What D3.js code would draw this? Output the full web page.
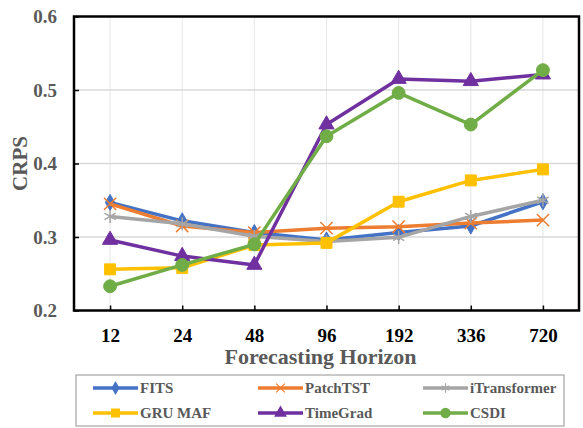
<!DOCTYPE html>
<html>
<head>
<meta charset="utf-8">
<script src="https://cdn.jsdelivr.net/npm/d3@7"></script>
<style>
  body { margin: 0; background: #fff; }
  text { font-family: "Liberation Serif", "Times New Roman", serif; font-weight: bold; }
</style>
</head>
<body>
<script>
const [width, height] = [583, 428];

const horizons = ['12', '24', '48', '96', '192', '336', '720'];
const yTicks = [0.2, 0.3, 0.4, 0.5, 0.6];

const fits = [0.347, 0.322, 0.306, 0.296, 0.306, 0.315, 0.348];
const patchtst = [0.345, 0.315, 0.306, 0.312, 0.314, 0.319, 0.323];
const itransformer = [0.328, 0.318, 0.301, 0.294, 0.2995, 0.328, 0.350];
const grumaf = [0.256, 0.258, 0.289, 0.292, 0.348, 0.377, 0.392];
const timegrad = [0.296, 0.274, 0.262, 0.453, 0.515, 0.512, 0.521];
const csdi = [0.233, 0.262, 0.290, 0.437, 0.496, 0.453, 0.527];

const series = [
  {name: 'FITS', values: fits, color: '#4472C4', symbol: d3.symbolDiamond, size: 75, fill: true},
  {name: 'PatchTST', values: patchtst, color: '#ED7D31', symbol: d3.symbolX, size: 100, fill: false},
  {name: 'iTransformer', values: itransformer, color: '#A5A5A5', symbol: d3.symbolAsterisk, size: 120, fill: false},
  {name: 'GRU MAF', values: grumaf, color: '#FFC000', symbol: d3.symbolSquare, size: 120, fill: true},
  {name: 'TimeGrad', values: timegrad, color: '#7030A0', symbol: d3.symbolTriangle, size: 100, fill: true},
  {name: 'CSDI', values: csdi, color: '#70AD47', symbol: d3.symbolCircle, size: 130, fill: true}
];

const plot = {left: 74, right: 579, top: 16.5, bottom: 310.5};

const svg = d3.select('body')
  .append('svg')
  .attr('width', width)
  .attr('height', height);

const xScale = d3.scalePoint()
  .domain(horizons)
  .range([plot.left, plot.right])
  .padding(0.5);

const yScale = d3.scaleLinear()
  .domain([0.2, 0.6])
  .range([plot.bottom, plot.top]);

// grid
const grid = svg.append('g').attr('class', 'grid');
grid.selectAll('line.v')
  .data(horizons)
  .enter()
  .append('line')
  .attr('class', 'v')
  .attr('x1', d => xScale(d)).attr('x2', d => xScale(d))
  .attr('y1', plot.top).attr('y2', plot.bottom)
  .attr('stroke', '#e6e6e6')
  .attr('stroke-width', 1);
grid.selectAll('line.h')
  .data(yTicks.slice(1, -1))
  .enter()
  .append('line')
  .attr('class', 'h')
  .attr('x1', plot.left).attr('x2', plot.right)
  .attr('y1', d => yScale(d)).attr('y2', d => yScale(d))
  .attr('stroke', '#d9d9d9')
  .attr('stroke-width', 1.5);

// axes
const axisX = d3.axisBottom(xScale).tickSizeInner(-5).tickSizeOuter(0).tickPadding(14);
const gx = svg.append('g')
  .attr('transform', `translate(0, ${plot.bottom})`)
  .call(axisX);
gx.select('.domain').remove();
gx.selectAll('line').attr('stroke', '#000').attr('stroke-width', 1.5);
gx.selectAll('text')
  .attr('font-size', 19)
  .attr('fill', '#000')
  .attr('dy', '0.9em');

const axisY = d3.axisLeft(yScale).tickValues(yTicks).tickFormat(d3.format('.1f'))
  .tickSizeInner(-5).tickSizeOuter(0).tickPadding(17);
const gy = svg.append('g')
  .attr('transform', `translate(${plot.left}, 0)`)
  .call(axisY);
gy.select('.domain').remove();
gy.selectAll('line').attr('stroke', '#000').attr('stroke-width', 1.5);
gy.selectAll('text')
  .attr('font-size', 19)
  .attr('fill', '#595959');

svg.append('rect')
  .attr('x', plot.left).attr('y', plot.top)
  .attr('width', plot.right - plot.left)
  .attr('height', plot.bottom - plot.top)
  .attr('fill', 'none')
  .attr('stroke', '#000')
  .attr('stroke-width', 2.5);

// titles
svg.append('text')
  .attr('x', (plot.left + plot.right) / 2 - 6)
  .attr('y', 364)
  .attr('text-anchor', 'middle')
  .attr('font-size', 22)
  .attr('fill', '#595959')
  .text('Forecasting Horizon');

svg.append('text')
  .attr('transform', `translate(27, ${(plot.top + plot.bottom) / 2}) rotate(-90)`)
  .attr('text-anchor', 'middle')
  .attr('font-size', 21)
  .attr('fill', '#595959')
  .text('CRPS');

// lines
const line = d3.line()
  .x((d, i) => xScale(horizons[i]))
  .y(d => yScale(d));

const gs = svg.append('g').attr('class', 'series')
  .selectAll('g')
  .data(series)
  .enter()
  .append('g');

gs.append('path')
  .attr('d', d => line(d.values))
  .attr('fill', 'none')
  .attr('stroke', d => d.color)
  .attr('stroke-width', 3.5)
  .attr('stroke-linejoin', 'round');

gs.each(function(s) {
  d3.select(this).selectAll('path.mark')
    .data(s.values)
    .enter()
    .append('path')
    .attr('class', 'mark')
    .attr('transform', (d, i) => `translate(${xScale(horizons[i])}, ${yScale(d)})`)
    .attr('d', d3.symbol().type(s.symbol).size(s.size))
    .attr('fill', s.fill ? s.color : 'none')
    .attr('stroke', s.color)
    .attr('stroke-width', s.fill ? 1 : 1.5);
});

// legend
const legend = svg.append('g').attr('class', 'legend');
legend.append('rect')
  .attr('x', 76).attr('y', 375)
  .attr('width', 488).attr('height', 51)
  .attr('fill', '#fff')
  .attr('stroke', '#a6a6a6')
  .attr('stroke-width', 1.2);

const items = legend.selectAll('g')
  .data(series)
  .enter()
  .append('g')
  .attr('transform', (d, i) => `translate(${93 + (i % 3) * 165}, ${388 + Math.floor(i / 3) * 25})`);
items.append('line')
  .attr('x1', 0).attr('x2', 45)
  .attr('stroke', d => d.color)
  .attr('stroke-width', 3.5);
items.append('path')
  .attr('transform', 'translate(22.5, 0)')
  .attr('d', d => d3.symbol().type(d.symbol).size(d.size * 0.5)())
  .attr('fill', d => d.fill ? d.color : 'none')
  .attr('stroke', d => d.color)
  .attr('stroke-width', 1.2);
items.append('text')
  .attr('x', 47)
  .attr('dy', '0.35em')
  .attr('font-size', 15)
  .attr('fill', '#595959')
  .text(d => d.name);
</script>
</body>
</html>
